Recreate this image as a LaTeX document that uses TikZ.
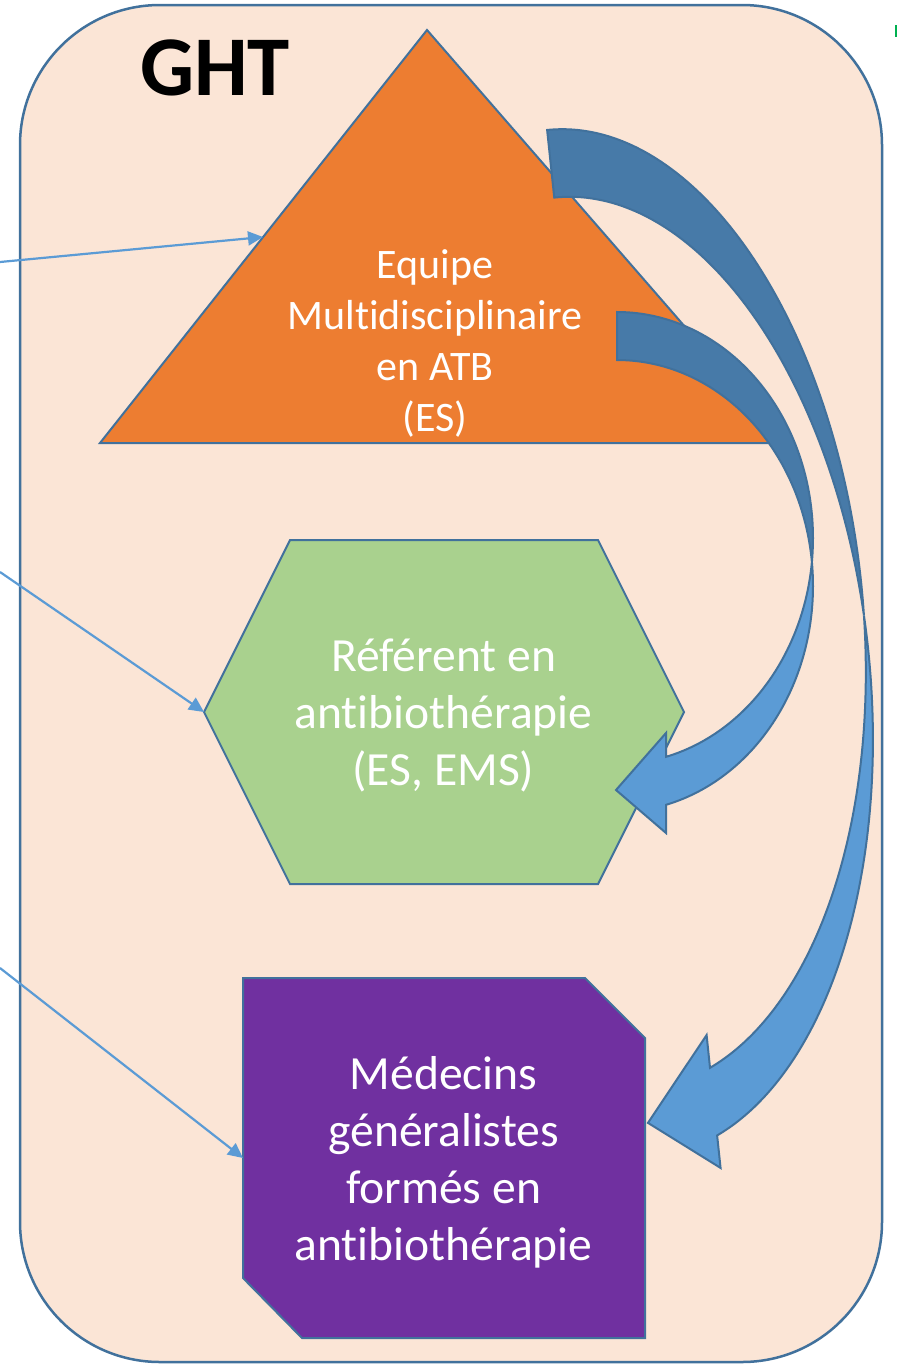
\documentclass[tikz,border=0pt]{standalone}
\usepackage{fontspec}
\setmainfont{Carlito}[Ligatures={NoCommon,NoRare,NoContextual}]
\usetikzlibrary{arrows.meta}
\definecolor{bgpeach}{HTML}{FBE5D6}
\definecolor{bordblue}{HTML}{41719C}
\definecolor{atborange}{HTML}{ED7D31}
\definecolor{refgreen}{HTML}{A9D18E}
\definecolor{medpurple}{HTML}{7030A0}
\definecolor{arrblue}{HTML}{5B9BD5}
\definecolor{backblue}{HTML}{477AA8}
\definecolor{markgreen}{HTML}{00B050}
\begin{document}
\begin{tikzpicture}[x=0.5pt,y=-0.5pt,
  shapebox/.style={draw=bordblue, line width=1pt},
  thinarrow/.style={draw=arrblue, line width=1.1pt, -{Triangle[length=7.5pt,width=7pt]}},
  curveback/.style={fill=backblue, draw=bordblue, line width=1pt},
  curvefront/.style={fill=arrblue, draw=bordblue, line width=1pt},
  whitetext/.style={text=white, align=center, inner sep=0pt},
]
\useasboundingbox (0,0) rectangle (897,1365);
% frame GHT
\filldraw[fill=bgpeach, draw=bordblue, line width=1.25pt, rounded corners=70pt] (20,5) rectangle (882,1362);
\node[anchor=base, inner sep=0pt, font=\fontsize{42.5pt}{50pt}\selectfont\bfseries] (ght) at (215,95) {GHT};
% shapes
\filldraw[shapebox, fill=atborange] (427,30) -- (786,443) -- (100,443) -- cycle;
\filldraw[shapebox, fill=refgreen] (204,712) -- (290,540) -- (598,540) -- (684,712) -- (598,884) -- (290,884) -- cycle;
\filldraw[shapebox, fill=medpurple] (243,978) -- (585,978) -- (645,1038) -- (645,1338) -- (302,1338) -- (243,1278) -- cycle;
\coordinate (triL) at (263,237);
\coordinate (hexL) at (204,712);
\coordinate (medL) at (243,1158);
\coordinate (srcA) at (0,262);
\coordinate (srcB) at (0,572);
\coordinate (srcC) at (0,968);
\draw[thinarrow] (srcA) -- (triL);
\draw[thinarrow] (srcB) -- (hexL);
\draw[thinarrow] (srcC) -- (medL);
% short curved arrow
\filldraw[curveback] plot[domain=90:-6.096, samples=80, variable=\t] ({617+196*cos(\t)},{538-226*sin(\t)})
  -- plot[domain=6.096:90, samples=80, variable=\t] ({617+196*cos(\t)},{586-226*sin(\t)}) -- cycle;
\filldraw[curvefront] plot[domain=6.096:-75.52, samples=80, variable=\t] ({617+196*cos(\t)},{586-226*sin(\t)})
  -- (666,833) -- (616,790) -- (666,733)
  -- plot[domain=-75.52:-6.096, samples=80, variable=\t] ({617+196*cos(\t)},{538-226*sin(\t)}) -- cycle;
% long curved arrow
\begin{scope}[rotate around={6:(650,640)}]
\filldraw[curveback] plot[domain=90:-4.045, samples=100, variable=\t] ({601+265*cos(\t)},{604-482*sin(\t)})
  -- plot[domain=4.045:90, samples=100, variable=\t] ({601+265*cos(\t)},{672-482*sin(\t)}) -- cycle;
\filldraw[curvefront] plot[domain=4.045:-76.03, samples=100, variable=\t] ({601+265*cos(\t)},{672-482*sin(\t)})
  -- (665,1172.4) -- (597.5,1120) -- (665,1038.8)
  -- plot[domain=-76.03:-4.045, samples=100, variable=\t] ({601+265*cos(\t)},{604-482*sin(\t)}) -- cycle;
\end{scope}
% texts
\node[whitetext, font=\fontsize{21pt}{25.5pt}\selectfont] (atb) at (435,343) {Equipe\\Multidisciplinaire\\en ATB\\(ES)};
\node[whitetext, font=\fontsize{23.8pt}{28.5pt}\selectfont] (ref) at (443.5,715) {Référent en\\antibiothérapie\\(ES, EMS)};
\node[whitetext, font=\fontsize{23.8pt}{28.5pt}\selectfont] (med) at (443.5,1162) {Médecins\\généralistes\\formés en\\antibiothérapie};
\draw[markgreen, line width=1pt] (896,25) -- (896,37);
\end{tikzpicture}
\end{document}
